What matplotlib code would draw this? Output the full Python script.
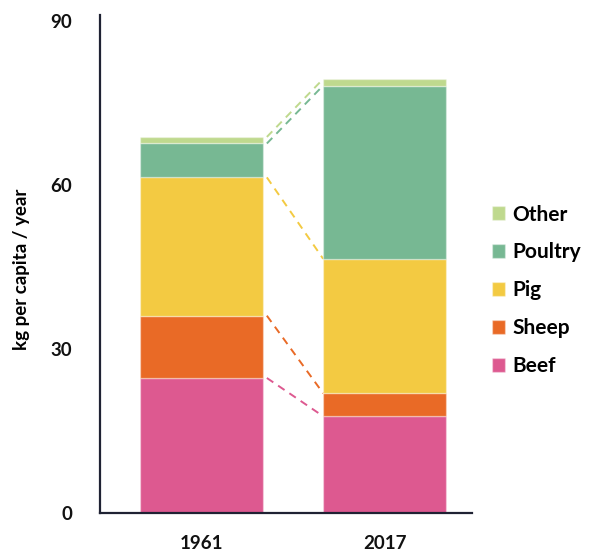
import matplotlib
matplotlib.use("Agg")
import matplotlib.pyplot as plt
import numpy as np

years = ["1961", "2017"]
categories = ["Beef", "Sheep", "Pig", "Poultry", "Other"]
beef = [24.7, 17.7]
sheep = [11.4, 4.2]
pig = [25.3, 24.6]
poultry = [6.2, 31.7]
other = [1.2, 1.2]
colors = ["#DD5990", "#E96A26", "#F3CA42", "#77B893", "#BFD98E"]

plt.rcParams['font.family'] = ['Lato', 'DejaVu Sans']
plt.rcParams['font.weight'] = 'bold'

fig = plt.figure(figsize=(5.89, 5.57), dpi=100)
ax = fig.add_axes([0.170, 0.079, 0.631, 0.894])

x = np.arange(len(years))
width = 0.672
series = [beef, sheep, pig, poultry, other]
bottom = np.zeros(len(years))
handles = []
for vals, col, name in zip(series, colors, categories):
    vals = np.array(vals)
    b = ax.bar(x, vals, width, bottom=bottom, color=col, edgecolor=(1, 1, 1, 0.35),
               linewidth=1, label=name, zorder=2)
    handles.append(b)
    top = bottom + vals
    # dashed connector between the tops of each segment
    ax.plot([x[0] + width / 2 + 0.02, x[1] - width / 2], [top[0], top[1]],
            color=col, linestyle=(0, (4, 3)), linewidth=1.4, zorder=1)
    bottom = top

ax.set_xlim(-0.556, 1.477)
ax.set_ylim(0, 91.1)
ax.set_yticks([0, 30, 60, 90])
ax.set_xticks(x)
ax.set_xticklabels(years)
ax.tick_params(axis='both', length=0, labelsize=13.5, colors='#111111')
ax.tick_params(axis='x', pad=16)
ax.tick_params(axis='y', pad=20)
for lab in ax.get_xticklabels() + ax.get_yticklabels():
    lab.set_fontweight('bold')

for s in ['top', 'right']:
    ax.spines[s].set_visible(False)
for s in ['left', 'bottom']:
    ax.spines[s].set_color('#1f2233')
    ax.spines[s].set_linewidth(1.6)

ax.set_ylabel("kg per capita / year", fontsize=13.5, fontweight='bold')
ax.yaxis.set_label_coords(-0.19, 0.49)

leg = ax.legend(handles[::-1], categories[::-1], loc='center left',
                bbox_to_anchor=(1.005, 0.447), frameon=False, fontsize=15,
                handlelength=0.62, handleheight=0.62, handletextpad=0.35,
                labelspacing=0.86)
for t in leg.get_texts():
    t.set_fontweight('bold')

fig.savefig("out.png", dpi=100)
